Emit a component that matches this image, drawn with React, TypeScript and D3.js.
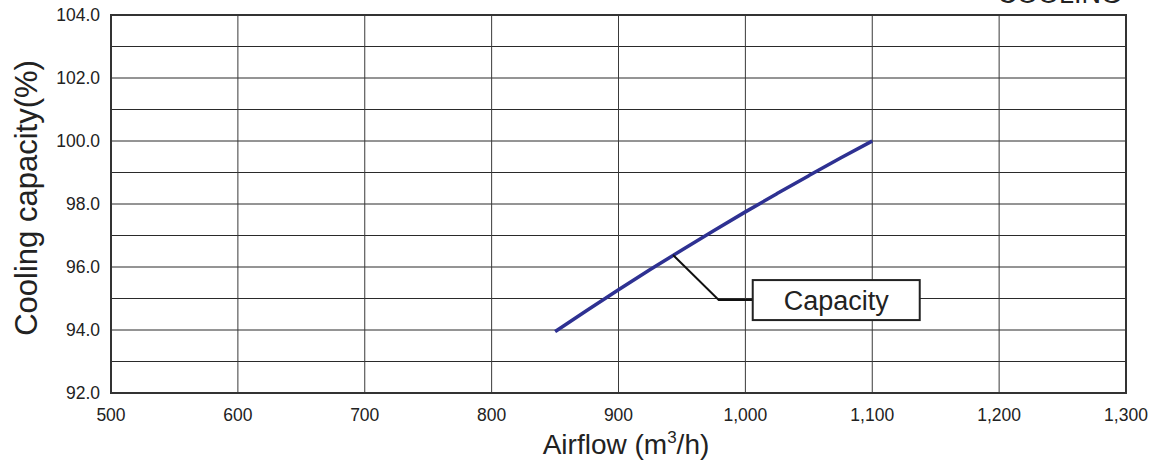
import React from 'react';
import * as d3 from 'd3';

// airflow (m3/h) vs cooling capacity (%)
const airflow = [850, 875, 900, 925, 950, 975, 1000, 1025, 1050, 1075, 1100];
const capacity = [93.95, 94.62, 95.28, 95.92, 96.54, 97.15, 97.75, 98.33, 98.9, 99.46, 100.0];

const xTicks = [500, 600, 700, 800, 900, 1000, 1100, 1200, 1300];
const yTicks = [92, 94, 96, 98, 100, 102, 104];
const yGrid = [92, 93, 94, 95, 96, 97, 98, 99, 100, 101, 102, 103, 104];

// callout: point on the curve -> elbow -> label box
const calloutAt = [943, 96.38];
const calloutElbow = [979, 94.95];
const calloutLabel = 'Capacity';

const W = 1162;
const H = 462;
const margin = { top: 15, right: 36, bottom: 69, left: 111 };
const font = '"Liberation Sans", Arial, sans-serif';

export default function App() {
  const x = d3.scaleLinear().domain([500, 1300]).range([margin.left, W - margin.right]);
  const y = d3.scaleLinear().domain([92, 104]).range([H - margin.bottom, margin.top]);

  const pts = airflow.map((a, i) => [a, capacity[i]] as [number, number]);
  const line = d3
    .line<[number, number]>()
    .x(d => x(d[0]))
    .y(d => y(d[1]))
    .curve(d3.curveMonotoneX);

  const fmtX = d3.format(',');
  const fmtY = d3.format('.1f');

  const elbowX = x(calloutElbow[0]);
  const elbowY = y(calloutElbow[1]);
  const boxW = 167;
  const boxH = 40;
  const boxX = elbowX + 34;

  return (
    <svg
      width={W}
      height={H}
      style={{ position: 'absolute', left: 0, top: 0, background: '#fff' }}
      fontFamily={font}
    >
      {/* title, cut off at the top edge as in the source */}
      <text x={1122} y={3} textAnchor="end" fontSize={27} fill="#222">
        COOLING
      </text>

      {/* grid */}
      {yGrid.map(v => (
        <line key={'h' + v} x1={x(500)} x2={x(1300)} y1={y(v)} y2={y(v)} stroke="#2a2a2a" strokeWidth={1} />
      ))}
      {xTicks.map(v => (
        <line key={'v' + v} x1={x(v)} x2={x(v)} y1={y(92)} y2={y(104)} stroke="#3a3a3a" strokeWidth={1} />
      ))}
      <rect
        x={x(500)}
        y={y(104)}
        width={x(1300) - x(500)}
        height={y(92) - y(104)}
        fill="none"
        stroke="#333"
        strokeWidth={2}
      />

      {/* tick labels */}
      {yTicks.map(v => (
        <text key={'yt' + v} x={x(500) - 11} y={y(v)} dy="0.36em" textAnchor="end" fontSize={17.5} fill="#222">
          {fmtY(v)}
        </text>
      ))}
      {xTicks.map(v => (
        <text key={'xt' + v} x={x(v)} y={421} textAnchor="middle" fontSize={17.5} fill="#222">
          {fmtX(v)}
        </text>
      ))}

      {/* axis titles */}
      <text x={626} y={454} textAnchor="middle" fontSize={28} fill="#222">
        Airflow (m
        <tspan fontSize={17} dy={-11}>3</tspan>
        <tspan dy={11}>/h)</tspan>
      </text>
      <text
        transform={`translate(37, ${198}) rotate(-90)`}
        textAnchor="middle"
        fontSize={31}
        fill="#222"
      >
        Cooling capacity(%)
      </text>

      {/* series */}
      <path d={line(pts) || ''} fill="none" stroke="#2e3192" strokeWidth={3.5} strokeLinejoin="round" />

      {/* callout */}
      <polyline
        points={`${x(calloutAt[0])},${y(calloutAt[1])} ${elbowX},${elbowY} ${boxX},${elbowY}`}
        fill="none"
        stroke="#111"
        strokeWidth={2}
      />
      <rect x={boxX} y={elbowY - boxH / 2} width={boxW} height={boxH} fill="#fff" stroke="#222" strokeWidth={2} />
      <text x={boxX + boxW / 2} y={elbowY} dy="0.36em" textAnchor="middle" fontSize={27} fill="#222">
        {calloutLabel}
      </text>
    </svg>
  );
}
